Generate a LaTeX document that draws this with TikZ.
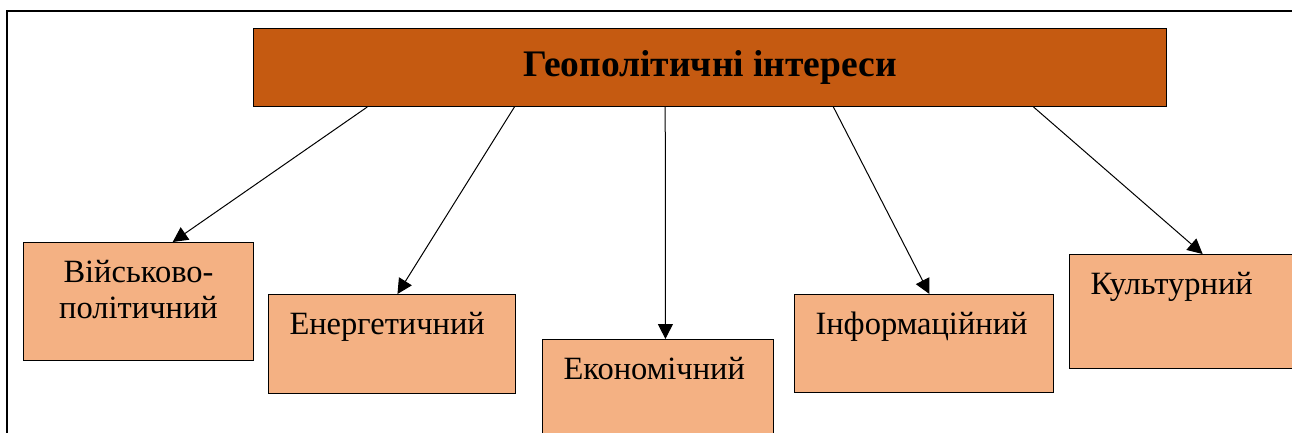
\documentclass[tikz,border=0pt]{standalone}
\usepackage{fontspec}
\setmainfont{Liberation Serif}
\usetikzlibrary{arrows.meta,calc}
\tikzset{>={Triangle[length=15pt,width=15pt]}}
\definecolor{headorange}{HTML}{C55A11}
\definecolor{boxorange}{HTML}{F4B183}
\tikzstyle{topic} = [draw, fill=headorange, rectangle, anchor=north west, minimum width=913pt, minimum height=78pt, font=\fontsize{37.5}{45}\selectfont\bfseries]
\tikzstyle{branch} = [draw, fill=boxorange, rectangle, anchor=north west, inner xsep=21pt, inner ysep=0pt, text height=40pt, align=left, font=\fontsize{32.5}{36}\selectfont]

\begin{document}
\begin{tikzpicture}[x=1pt,y=-1pt,line width=1pt]
\useasboundingbox (0,0) rectangle (1292,432);
\clip (0,0) rectangle (1292,432);

% Outer frame
\draw[line width=2pt] (7,11) rectangle (1320,460);

% Diagram nodes
\node[topic](geo) at (253,28){Геополітичні інтереси};

\node[branch,align=center,text width=188pt,text depth=78pt](mil) at (23,242){Військово-\\політичний};
\node[branch,text width=205pt,text depth=59pt](ener) at (268,294){Енергетичний};
\node[branch,text width=189pt,text depth=90pt](econ) at (542,339){Економічний};
\node[branch,text width=217pt,text depth=58pt](info) at (794,294){Інформаційний};
\node[branch,text width=200pt,text depth=74pt](cult) at (1069,254){Культурний};

% Draw connectors
\draw[->]($(geo.south west)!0.125!(geo.south east)$)--($(mil.north west)!0.648!(mil.north east)$);
\draw[->]($(geo.south west)!0.286!(geo.south east)$)--($(ener.north west)!0.522!(ener.north east)$);
\draw[->]($(geo.south west)!0.451!(geo.south east)$)--($(econ.north west)!0.532!(econ.north east)$);
\draw[->]($(geo.south west)!0.635!(geo.south east)$)--($(info.north west)!0.521!(info.north east)$);
\draw[->]($(geo.south west)!0.854!(geo.south east)$)--($(cult.north west)!0.55!(cult.north east)$);

\end{tikzpicture}
\end{document}
